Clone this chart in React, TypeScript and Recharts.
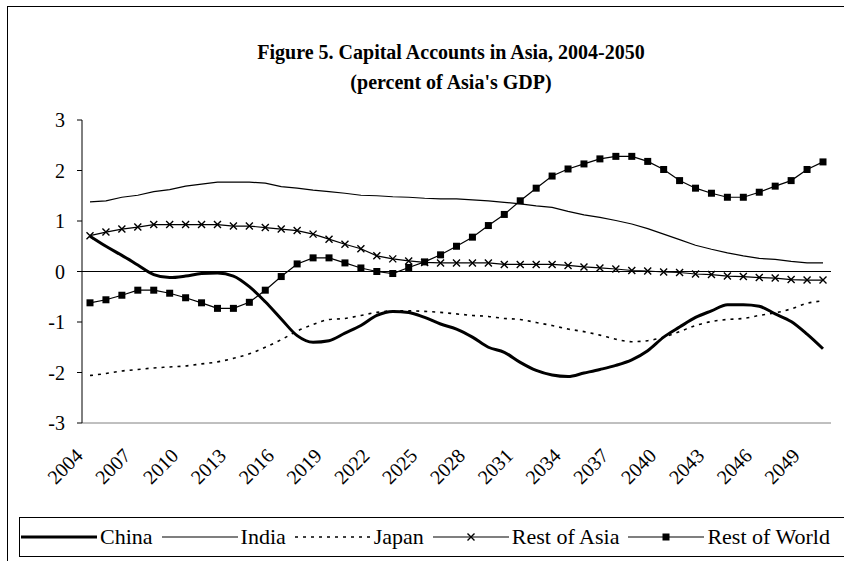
import { LineChart, Line, XAxis, YAxis, ReferenceLine } from "recharts";

const years = [
  "2004", "2005", "2006", "2007", "2008", "2009", "2010", "2011", "2012", "2013",
  "2014", "2015", "2016", "2017", "2018", "2019", "2020", "2021", "2022", "2023",
  "2024", "2025", "2026", "2027", "2028", "2029", "2030", "2031", "2032", "2033",
  "2034", "2035", "2036", "2037", "2038", "2039", "2040", "2041", "2042", "2043",
  "2044", "2045", "2046", "2047", "2048", "2049", "2050",
];

const china = [
  0.7, 0.5, 0.32, 0.13, -0.06, -0.12, -0.09, -0.04, -0.03, -0.09,
  -0.3, -0.6, -0.94, -1.27, -1.4, -1.37, -1.22, -1.07, -0.87, -0.79,
  -0.81, -0.91, -1.04, -1.14, -1.3, -1.5, -1.6, -1.8, -1.96, -2.05,
  -2.08, -2.01, -1.94, -1.86, -1.75, -1.57, -1.3, -1.1, -0.91, -0.78,
  -0.66, -0.66, -0.69, -0.84, -0.99, -1.24, -1.53,
];

const india = [
  1.38, 1.4, 1.47, 1.51, 1.58, 1.62, 1.69, 1.73, 1.77, 1.77,
  1.77, 1.75, 1.68, 1.65, 1.61, 1.58, 1.55, 1.51, 1.5, 1.48,
  1.47, 1.45, 1.44, 1.44, 1.42, 1.4, 1.37, 1.34, 1.3, 1.27,
  1.19, 1.12, 1.07, 1.01, 0.94, 0.85, 0.74, 0.63, 0.52, 0.44,
  0.37, 0.31, 0.26, 0.24, 0.2, 0.17, 0.17,
];

const japan = [
  -2.06, -2.02, -1.97, -1.94, -1.91, -1.89, -1.87, -1.83, -1.79, -1.72,
  -1.63, -1.5, -1.35, -1.18, -1.05, -0.95, -0.93, -0.87, -0.81, -0.78,
  -0.78, -0.79, -0.81, -0.84, -0.87, -0.89, -0.93, -0.95, -1.01, -1.07,
  -1.14, -1.19, -1.26, -1.34, -1.39, -1.37, -1.3, -1.19, -1.07, -0.99,
  -0.95, -0.93, -0.87, -0.82, -0.74, -0.63, -0.58,
];

const restOfAsia = [
  0.71, 0.78, 0.84, 0.88, 0.93, 0.93, 0.93, 0.93, 0.93, 0.9,
  0.9, 0.87, 0.84, 0.81, 0.74, 0.64, 0.54, 0.45, 0.31, 0.25,
  0.21, 0.18, 0.17, 0.17, 0.17, 0.17, 0.14, 0.14, 0.14, 0.14,
  0.12, 0.09, 0.07, 0.05, 0.02, 0.01, -0.01, -0.02, -0.05, -0.06,
  -0.09, -0.1, -0.12, -0.13, -0.16, -0.17, -0.17,
];

const restOfWorld = [
  -0.62, -0.56, -0.47, -0.37, -0.37, -0.43, -0.52, -0.62, -0.73, -0.73,
  -0.61, -0.37, -0.1, 0.15, 0.27, 0.27, 0.17, 0.07, 0.0, -0.04,
  0.08, 0.19, 0.33, 0.5, 0.68, 0.91, 1.13, 1.4, 1.65, 1.89,
  2.03, 2.13, 2.23, 2.28, 2.28, 2.18, 2.02, 1.8, 1.65, 1.55,
  1.47, 1.47, 1.57, 1.69, 1.8, 2.02, 2.17,
];

const yTicks = [-3, -2, -1, 0, 1, 2, 3];

const data = years.map((year, i) => ({
  year,
  china: china[i],
  india: india[i],
  japan: japan[i],
  restOfAsia: restOfAsia[i],
  restOfWorld: restOfWorld[i],
}));

const FONT = '"Liberation Serif", "Times New Roman", serif';

type Marker = "none" | "cross" | "square";

const series: { key: string; name: string; width: number; dash?: string; marker: Marker; curve: "monotone" | "linear" }[] = [
  { key: "china", name: "China", width: 3, marker: "none", curve: "monotone" },
  { key: "india", name: "India", width: 1.2, marker: "none", curve: "linear" },
  { key: "japan", name: "Japan", width: 1.6, dash: "3 5", marker: "none", curve: "monotone" },
  { key: "restOfAsia", name: "Rest of Asia", width: 1.2, marker: "cross", curve: "linear" },
  { key: "restOfWorld", name: "Rest of World", width: 1.2, marker: "square", curve: "linear" },
];

function drawMarker(marker: Marker, cx: number, cy: number, key?: string | number) {
  if (marker === "cross") {
    const s = 3.5;
    return (
      <path
        key={key}
        d={`M${cx - s},${cy - s}L${cx + s},${cy + s}M${cx - s},${cy + s}L${cx + s},${cy - s}`}
        stroke="#000"
        strokeWidth={1.4}
        fill="none"
      />
    );
  }
  if (marker === "square") {
    return <rect key={key} x={cx - 3.5} y={cy - 3.5} width={7} height={7} fill="#000" />;
  }
  return null;
}

// rotated year labels, end of text sits just left of the point
const YearTick = (props: any) => {
  const { x, y, payload } = props;
  const tx = x - 6;
  const ty = y + 26;
  return (
    <text
      x={tx}
      y={ty}
      transform={`rotate(-45, ${tx}, ${ty})`}
      textAnchor="end"
      style={{ fontFamily: FONT, fontSize: 20, fill: "#000" }}
    >
      {payload.value}
    </text>
  );
};

const ValueTick = (props: any) => {
  const { x, y, payload } = props;
  return (
    <text
      x={x - 10}
      y={y + 7}
      textAnchor="end"
      style={{ fontFamily: FONT, fontSize: 20, fill: "#000" }}
    >
      {payload.value}
    </text>
  );
};

function LegendBox() {
  return (
    <div
      style={{
        position: "absolute",
        left: 19,
        top: 517,
        width: 900,
        height: 40,
        border: "1px solid #000",
        display: "flex",
        alignItems: "center",
        paddingLeft: 1,
        boxSizing: "border-box",
        fontFamily: FONT,
        fontSize: 22,
        color: "#000",
      }}
    >
      {series.map((s) => (
        <div key={s.key} style={{ display: "flex", alignItems: "center", marginRight: 9 }}>
          <svg width={76} height={12}>
            <line x1={0} y1={6} x2={76} y2={6} stroke="#000" strokeWidth={s.width} strokeDasharray={s.dash} />
            {drawMarker(s.marker, 38, 6)}
          </svg>
          <span style={{ marginLeft: 3 }}>{s.name}</span>
        </div>
      ))}
    </div>
  );
}

export default function App() {
  return (
    <div
      style={{
        position: "absolute",
        left: 0,
        top: 0,
        width: 844,
        height: 561,
        overflow: "hidden",
        background: "#fff",
      }}
    >
      <div
        style={{
          position: "absolute",
          left: 7,
          top: 6,
          width: 1000,
          height: 1000,
          border: "1px solid #000",
        }}
      />
      <div
        style={{
          position: "absolute",
          left: 0,
          top: 37,
          width: 902,
          textAlign: "center",
          fontFamily: FONT,
          fontWeight: "bold",
          fontSize: 20,
          lineHeight: "30px",
          color: "#000",
        }}
      >
        <div>Figure 5. Capital Accounts in Asia, 2004-2050</div>
        <div>(percent of Asia's GDP)</div>
      </div>
      <div style={{ position: "absolute", left: 0, top: 0 }}>
        <LineChart
          width={844}
          height={561}
          data={data}
          margin={{ top: 120, right: 13, bottom: 78, left: 42 }}
        >
          <XAxis
            dataKey="year"
            interval={2}
            height={60}
            padding={{ left: 8, right: 8 }}
            tickLine={false}
            axisLine={{ stroke: "#808080" }}
            tick={<YearTick />}
          />
          <XAxis
            xAxisId="top"
            dataKey="year"
            orientation="top"
            height={0}
            tick={false}
            tickLine={false}
            axisLine={{ stroke: "#808080" }}
          />
          <YAxis
            domain={[-3, 3]}
            ticks={yTicks}
            width={40}
            tickSize={5}
            tickLine={{ stroke: "#000" }}
            axisLine={{ stroke: "#000" }}
            tick={<ValueTick />}
          />
          <YAxis
            yAxisId="right"
            orientation="right"
            domain={[-3, 3]}
            width={0}
            tick={false}
            tickLine={false}
            axisLine={{ stroke: "#808080" }}
          />
          <ReferenceLine y={0} stroke="#000" strokeWidth={1} />
          {series.map((s) => (
            <Line
              key={s.key}
              dataKey={s.key}
              name={s.name}
              type={s.curve}
              stroke="#000"
              strokeWidth={s.width}
              strokeDasharray={s.dash}
              dot={
                s.marker === "none"
                  ? false
                  : (p: any) => drawMarker(s.marker, p.cx, p.cy, p.index)
              }
              activeDot={false}
              isAnimationActive={false}
            />
          ))}
        </LineChart>
      </div>
      <LegendBox />
    </div>
  );
}
